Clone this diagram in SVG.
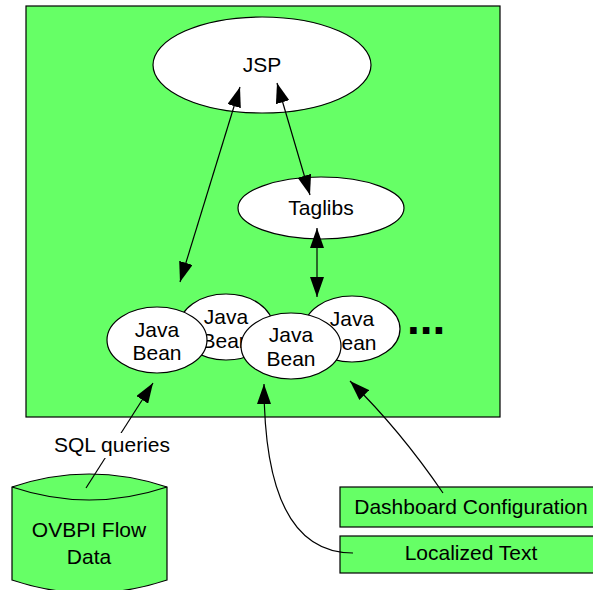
<svg xmlns="http://www.w3.org/2000/svg" width="593" height="590" viewBox="0 0 593 590">
<defs>
<marker id="ah" markerUnits="userSpaceOnUse" markerWidth="21" markerHeight="14" refX="20" refY="7" orient="auto-start-reverse" viewBox="0 0 21 14">
<path d="M0,0 L20,7 L0,14 z" fill="#000"/>
</marker>
<style>
.n{fill:#fff;stroke:#000;stroke-width:1.2}
.g{fill:#66ff66;stroke:#000;stroke-width:1.2}
.t{font-family:"Liberation Sans",Arial,sans-serif;font-size:21px;fill:#000;text-anchor:middle}
.c{fill:none;stroke:#000;stroke-width:1.2}
</style>
</defs>
<rect width="593" height="590" fill="#fff"/>
<g id="container"><rect x="26" y="6" width="474" height="411" class="g"/></g>
<g id="jsp"><ellipse cx="262" cy="65" rx="109" ry="48" class="n"/><text x="262" y="72" class="t">JSP</text></g>
<g id="taglibs"><ellipse cx="321" cy="208" rx="83" ry="31" class="n"/><text x="321" y="215" class="t">Taglibs</text></g>
<g id="bean2"><ellipse cx="226" cy="327" rx="47" ry="33" class="n"/><text x="226" y="324" class="t">Java</text><text x="226" y="348" class="t">Bean</text></g>
<g id="bean4"><ellipse cx="352" cy="329" rx="48" ry="33" class="n"/><text x="352" y="326" class="t">Java</text><text x="352" y="350" class="t">Bean</text></g>
<g id="bean1"><ellipse cx="157" cy="340" rx="50" ry="33" class="n"/><text x="157" y="337" class="t">Java</text><text x="157" y="360" class="t">Bean</text></g>
<g id="bean3"><ellipse cx="291" cy="346" rx="50" ry="33" class="n"/><text x="291" y="342" class="t">Java</text><text x="291" y="366" class="t">Bean</text></g>
<g id="more"><text x="407" y="334" style="font-family:'Liberation Sans',Arial,sans-serif;font-size:46px;font-weight:bold">...</text></g>
<g id="db">
<path d="M12,487 Q89,461 167,487 L167,580 Q89,606 12,580 Z" class="g"/>
<path d="M12,487 Q89,513 167,487" class="c"/>
<text x="89" y="537" class="t">OVBPI Flow</text><text x="89" y="564" class="t">Data</text>
</g>
<g id="dashcfg"><rect x="340" y="487" width="263" height="40" class="g"/><text x="471" y="514" class="t">Dashboard Configuration</text></g>
<g id="loctext"><rect x="340" y="536" width="263" height="37" class="g"/><text x="471" y="560" class="t">Localized Text</text></g>
<g id="connectors">
<line x1="180" y1="282" x2="240" y2="87" class="c" marker-start="url(#ah)" marker-end="url(#ah)"/>
<line x1="277" y1="83" x2="310" y2="195" class="c" marker-start="url(#ah)" marker-end="url(#ah)"/>
<line x1="317" y1="228" x2="317" y2="297" class="c" marker-start="url(#ah)" marker-end="url(#ah)"/>
<line x1="86" y1="488" x2="153" y2="383" class="c" marker-end="url(#ah)"/>
<path d="M353,553 C285,553 264,480 264,384" class="c" marker-end="url(#ah)"/>
<path d="M443,493 Q400,430 350,381" class="c" marker-end="url(#ah)"/>
<rect x="50" y="433" width="124" height="25" fill="#fff"/>
<text x="112" y="452" class="t">SQL queries</text>
</g>
</svg>
